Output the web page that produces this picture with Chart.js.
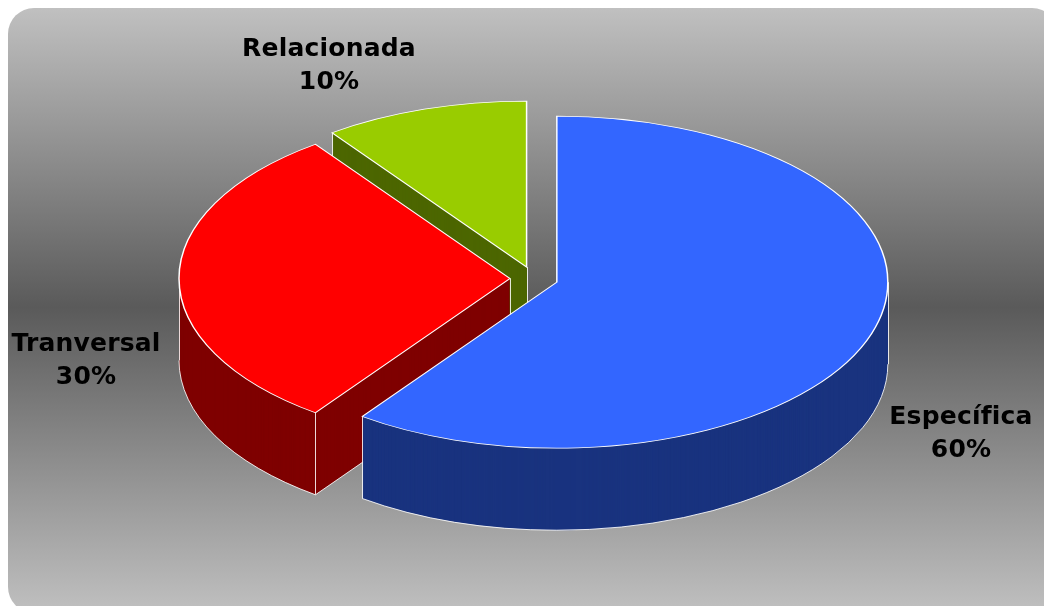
<!DOCTYPE html>
<html>
<head>
<meta charset="utf-8">
<style>
  html, body { margin: 0; padding: 0; background: #fff; }
  #wrap { position: relative; width: 1044px; height: 606px; overflow: hidden; }
  #panel {
    position: absolute; left: 8px; top: 8px; width: 1050px; height: 605px;
    border-radius: 26px;
    background: linear-gradient(to bottom, #c0c0c0 0%, #5a5a5a 49.5%, #c0c0c0 100%);
  }
  canvas { position: absolute; left: 0; top: 0; }
</style>
<script src="https://cdn.jsdelivr.net/npm/chart.js@4/dist/chart.umd.min.js"></script>
</head>
<body>
<div id="wrap">
  <div id="panel"></div>
  <canvas id="pieChart" width="1044" height="606"></canvas>
</div>
<script>
const categories = ['Específica', 'Tranversal', 'Relacionada'];
const shares = [60, 30, 10];
const topColors = ['#3366ff', '#ff0000', '#99cc00'];
const sideColors = ['#19337f', '#7f0000', '#4c6600'];

// 라벨 위치 (px)
const LABEL_POS = [[961, 417], [86, 344], [329, 49]];
const TILT = 0.5015;   // 타원 비율
const DEPTH = 82;      // 옆면 두께
const EXPLODE = 24;    // 조각 분리 거리

// 기본 그리기를 막고 기울인 3D 조각으로 직접 그림
const pie3d = {
  id: 'pie3d',
  beforeDatasetDraw(chart, args) {
    const ctx = chart.ctx;
    const arcs = args.meta.data;
    // 뒤쪽 조각부터 칠함
    [2, 1, 0].forEach(i => {
      const arc = arcs[i];
      const mid = (arc.startAngle + arc.endAngle) / 2;
      const ox = arc.x + Math.cos(mid) * EXPLODE;
      const oy = arc.y + Math.sin(mid) * EXPLODE * TILT;
      const place = dy => {
        ctx.translate(ox, oy + dy);
        ctx.scale(1, TILT);
        ctx.translate(-arc.x, -arc.y);
      };
      const base = arc.options;

      arc.options = { ...base, backgroundColor: sideColors[i], borderWidth: 0 };
      for (let dy = DEPTH; dy > 0; dy--) {
        ctx.save();
        place(dy);
        arc.draw(ctx);
        ctx.restore();
      }
      arc.options = base;

      // 옆면 테두리
      const edge = a => [
        ox + Math.cos(a) * arc.outerRadius,
        oy + Math.sin(a) * arc.outerRadius * TILT
      ];
      const vertical = ([px, py]) => {
        ctx.moveTo(Math.round(px) + 0.5, py);
        ctx.lineTo(Math.round(px) + 0.5, py + DEPTH);
      };
      ctx.save();
      ctx.strokeStyle = 'rgba(255,255,255,0.85)';
      ctx.lineWidth = 1;
      ctx.beginPath();
      // 잘린 면은 앞을 보는 쪽만
      if (Math.cos(arc.startAngle) < -1e-6) {
        const p = edge(arc.startAngle);
        vertical(p);
        vertical([ox, oy]);
        ctx.moveTo(p[0], p[1] + DEPTH);
        ctx.lineTo(ox, oy + DEPTH);
      }
      if (arc.startAngle < Math.PI && arc.endAngle > Math.PI) vertical(edge(Math.PI));
      if (arc.startAngle < 0 && arc.endAngle > 0) vertical(edge(0));
      if (arc.endAngle < Math.PI && arc.endAngle > Math.PI / 2) vertical(edge(arc.endAngle));
      ctx.stroke();
      // 앞쪽 바닥 호만
      const from = Math.max(arc.startAngle, 0);
      const to = Math.min(arc.endAngle, Math.PI);
      if (from < to) {
        ctx.beginPath();
        ctx.ellipse(ox, oy + DEPTH, arc.outerRadius, arc.outerRadius * TILT, 0, from, to);
        ctx.stroke();
      }
      ctx.restore();

      ctx.save();
      place(0);
      arc.draw(ctx);
      ctx.restore();
    });
    return false;
  },
  afterDatasetsDraw(chart) {
    const ctx = chart.ctx;
    ctx.save();
    ctx.fillStyle = '#000';
    ctx.font = 'bold 25px "DejaVu Sans"';
    ctx.letterSpacing = '0.2px';
    ctx.textAlign = 'center';
    ctx.textBaseline = 'middle';
    categories.forEach((name, i) => {
      const [x, y] = LABEL_POS[i];
      ctx.fillText(name, x, y);
      ctx.fillText(shares[i] + '%', x, y + 33);
    });
    ctx.restore();
  }
};

new Chart(document.getElementById('pieChart'), {
  type: 'pie',
  data: {
    labels: categories,
    datasets: [{
      data: shares,
      backgroundColor: topColors,
      borderColor: '#ffffff',
      borderWidth: 1.5,
      borderJoinStyle: 'miter'
    }]
  },
  options: {
    responsive: false,
    animation: false,
    radius: 331,
    layout: { padding: { left: 24, bottom: 49 } },
    plugins: { legend: { display: false }, tooltip: { enabled: false } }
  },
  plugins: [pie3d]
});
</script>
</body>
</html>
